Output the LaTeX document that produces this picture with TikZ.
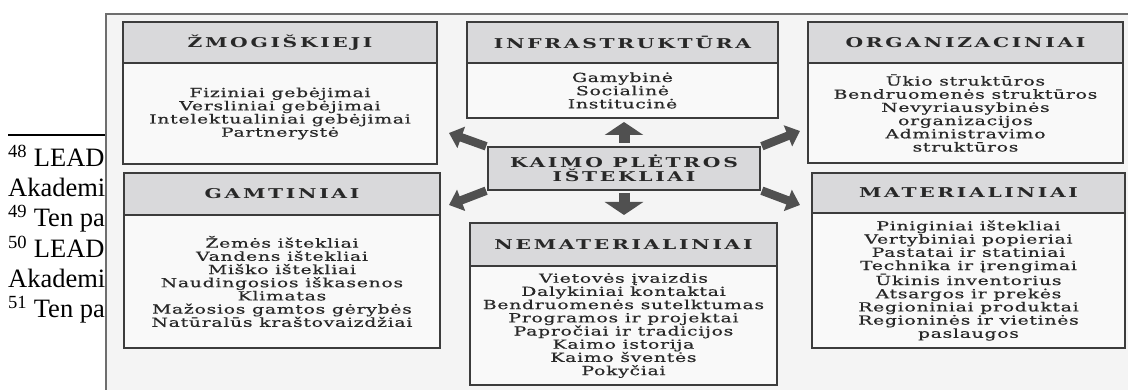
\documentclass[tikz,border=0pt]{standalone}
\usepackage{fontspec}
\setmainfont{Liberation Serif}
\newfontfamily\scanfont[FakeStretch=1.5,LetterSpace=6,FakeBold=0.6]{DejaVu Serif}
\newfontfamily\headfont[FakeStretch=1.5,LetterSpace=20]{DejaVu Serif}
\usetikzlibrary{positioning,arrows.meta}
\definecolor{scanbg}{RGB}{244,244,244}
\definecolor{headgray}{RGB}{217,217,219}
\definecolor{bodywhite}{RGB}{249,249,249}
\definecolor{linegray}{RGB}{60,60,60}
\definecolor{edgegray}{RGB}{110,110,110}
\definecolor{arrowgray}{RGB}{80,80,80}
\definecolor{inkgray}{RGB}{40,40,40}
\tikzset{
  head/.style={
    rectangle, draw=linegray, fill=headgray, line width=1.2pt,
    outer sep=0pt, text=inkgray, align=center,
    font=\headfont\bfseries\fontsize{13.5}{15}\selectfont
  },
  body/.style={
    rectangle, draw=linegray, fill=bodywhite, line width=1.2pt,
    outer sep=0pt, text=inkgray, align=center,
    font=\scanfont\fontsize{12.5}{13.2}\selectfont
  },
  footline/.style={anchor=base west, inner sep=0pt, font=\fontsize{26.5}{28}\selectfont},
  bigarrow/.style={draw=arrowgray, line width=11pt,
    -{Triangle[width=38pt,length=13pt]}},
  diagarrow/.style={draw=arrowgray, line width=8.5pt,
    -{Triangle[width=22pt,length=13pt]}, shorten <=2pt}
}

\begin{document}
\begin{tikzpicture}[x=1pt,y=-1pt]
  \useasboundingbox (0,0) rectangle (1128,390);

  % footnotes of the page under the scan
  \draw[line width=1.5pt] (8,135) -- (105,135);
  \node[footline] (fn48) at (8,167) {\textsuperscript{48} LEAD};
  \node[footline] (fnak1) at (8,197) {Akademi};
  \node[footline] (fn49) at (8,227) {\textsuperscript{49} Ten pa};
  \node[footline] (fn50) at (8,258) {\textsuperscript{50} LEAD};
  \node[footline] (fnak2) at (8,288) {Akademi};
  \node[footline] (fn51) at (8,318) {\textsuperscript{51} Ten pa};

  % the scanned sheet
  \fill[scanbg] (105,13) rectangle (1128,390);
  \draw[edgegray, line width=2pt] (106,390) -- (106,14) -- (1128,14);

  % top row
  \node[head, minimum width=314pt, minimum height=41pt] (zmoghead) at (280,42.5)
    {ŽMOGIŠKIEJI};
  \node[body, minimum width=314pt, minimum height=101pt, below=0pt of zmoghead] (zmog)
    {Fiziniai gebėjimai\\Versliniai gebėjimai\\Intelektualiniai gebėjimai\\Partnerystė};
  \node[head, minimum width=311pt, minimum height=41pt] (infrahead) at (622.5,42.5)
    {INFRASTRUKTŪRA};
  \node[body, minimum width=311pt, minimum height=55pt, below=0pt of infrahead] (infra)
    {Gamybinė\\Socialinė\\Institucinė};
  \node[head, minimum width=315pt, minimum height=41pt] (orghead) at (965.5,42.5)
    {ORGANIZACINIAI};
  \node[body, minimum width=315pt, minimum height=100pt, below=0pt of orghead] (org)
    {Ūkio struktūros\\Bendruomenės struktūros\\Nevyriausybinės\\organizacijos\\
     Administravimo\\struktūros};

  % centre
  \node[head, minimum width=272pt, minimum height=43pt,
    font=\headfont\bfseries\fontsize{13.5}{14}\selectfont] (kaimo) at (624,168.5)
    {KAIMO PLĖTROS\\IŠTEKLIAI};

  % bottom row
  \node[head, minimum width=316pt, minimum height=42pt] (gamthead) at (282,194)
    {GAMTINIAI};
  \node[body, minimum width=316pt, minimum height=133pt, below=0pt of gamthead] (gamt)
    {Žemės ištekliai\\Vandens ištekliai\\Miško ištekliai\\Naudingosios iškasenos\\
     Klimatas\\Mažosios gamtos gėrybės\\Natūralūs kraštovaizdžiai};
  \node[head, minimum width=307pt, minimum height=43pt] (nemathead) at (623.5,244.5)
    {NEMATERIALINIAI};
  \node[body, minimum width=307pt, minimum height=119pt, below=0pt of nemathead] (nemat)
    {Vietovės įvaizdis\\Dalykiniai kontaktai\\Bendruomenės sutelktumas\\
     Programos ir projektai\\Papročiai ir tradicijos\\Kaimo istorija\\
     Kaimo šventės\\Pokyčiai};
  \node[head, minimum width=313pt, minimum height=40pt] (materhead) at (968.5,193)
    {MATERIALINIAI};
  \node[body, minimum width=313pt, minimum height=135pt, below=0pt of materhead] (mater)
    {Piniginiai ištekliai\\Vertybiniai popieriai\\Pastatai ir statiniai\\
     Technika ir įrengimai\\Ūkinis inventorius\\Atsargos ir prekės\\
     Regioniniai produktai\\Regioninės ir vietinės\\paslaugos};

  % the arrows
  \coordinate (ulend) at (449,133);
  \coordinate (llend) at (449,205);
  \coordinate (urend) at (800,131);
  \coordinate (lrend) at (800,205);
  \draw[bigarrow, shorten <=4pt, shorten >=4pt]
    (kaimo.north) -- (kaimo.north |- infra.south);
  \draw[bigarrow, shorten <=3pt, shorten >=8pt]
    (kaimo.south) -- (kaimo.south |- nemathead.north);
  \draw[diagarrow] (kaimo.north west) -- (ulend);
  \draw[diagarrow] (kaimo.south west) -- (llend);
  \draw[diagarrow] (kaimo.north east) -- (urend);
  \draw[diagarrow] (kaimo.south east) -- (lrend);
\end{tikzpicture}
\end{document}
